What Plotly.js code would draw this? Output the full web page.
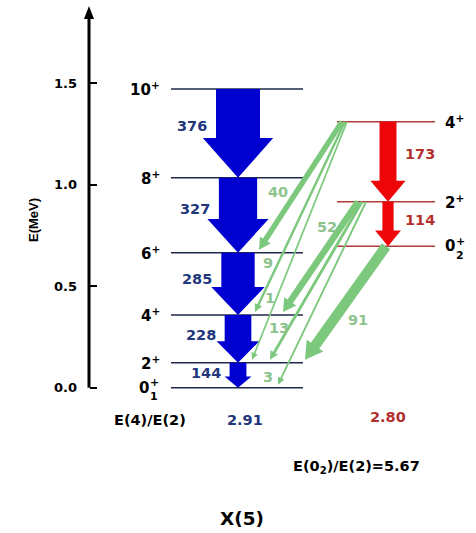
<!DOCTYPE html>
<html>
<head>
<meta charset="utf-8">
<script src="https://cdn.plot.ly/plotly-3.0.1.min.js"></script>
<style>html,body{margin:0;padding:0;background:#fff;}</style>
</head>
<body>
<div id="chart" style="width:476px;height:533px;"></div>
<script>
// ---- Level scheme data (energies in MeV) ----
const groundSpins = ['10', '8', '6', '4', '2', '0'];
const groundEnergies = [1.471, 1.034, 0.665, 0.358, 0.123, 0.0];
const betaSpins = ['4', '2', '0'];
const betaEnergies = [1.310, 0.916, 0.697];

// In-band B(E2) strengths, highest transition first
const groundBE2 = [376, 327, 285, 228, 144];
const betaBE2 = [173, 114];

// Inter-band transitions: beta level index -> ground level index, B(E2)
const interFrom = [0, 0, 0, 1, 1, 1, 2];
const interTo = [2, 3, 4, 3, 4, 5, 4];
const interBE2 = [40, 9, 1, 52, 13, 3, 91];

const yTicks = [0, 0.5, 1.0, 1.5];

// ---- Layout geometry (pixels) ----
const W = 476, H = 533;
const zeroPx = 387.7, pxPerMeV = 203;
const toE = p => (zeroPx - p) / pxPerMeV;
const toP = e => zeroPx - e * pxPerMeV;
const axisX = 89;
const groundLine = [171, 303], betaLine = [337, 435];
const groundArrowX = 238, betaArrowX = 388;
const interStartX = [342, 345, 347, 358, 362, 366, 386];
const interTipX = [259, 255, 252, 283, 270, 278, 305];
const interLabelPos = [[278, 192], [268, 263], [270, 298], [327, 227], [279, 328], [268, 377], [358, 320]];

const FONT = 'DejaVu Sans, Liberation Sans, Arial, sans-serif';
const FONT_NARROW = 'Liberation Sans, Arial, Helvetica, sans-serif';
const BLUE = 'rgb(0,0,208)', RED = 'rgb(236,6,10)', GREEN = 'rgb(124,200,124)';
const BLUE_TXT = '#22377c', RED_TXT = '#b3302f', GREEN_TXT = '#8dc38d';

// Arrow polygon in pixel space -> path in data coordinates
function arrowPath(x0, y0, x1, y1, w, hw, hl) {
  const L = Math.hypot(x1 - x0, y1 - y0);
  const dx = (x1 - x0) / L, dy = (y1 - y0) / L;
  const nx = -dy, ny = dx;
  const bx = x1 - dx * hl, by = y1 - dy * hl;
  const pts = [
    [x0 + nx * w / 2, y0 + ny * w / 2],
    [bx + nx * w / 2, by + ny * w / 2],
    [bx + nx * hw / 2, by + ny * hw / 2],
    [x1, y1],
    [bx - nx * hw / 2, by - ny * hw / 2],
    [bx - nx * w / 2, by - ny * w / 2],
    [x0 - nx * w / 2, y0 - ny * w / 2]
  ];
  return 'M' + pts.map(p => p[0].toFixed(2) + ',' + toE(p[1]).toFixed(5)).join(' L') + ' Z';
}

const shapes = [];
const annotations = [];

// Energy axis line with arrowhead
shapes.push({type: 'line', xref: 'x', yref: 'y', x0: axisX, x1: axisX, y0: 0, y1: toE(16),
  line: {color: '#000', width: 3}});
shapes.push({type: 'path', xref: 'x', yref: 'y', fillcolor: '#000', line: {width: 0},
  path: `M${axisX - 5},${toE(19)} L${axisX},${toE(6)} L${axisX + 5},${toE(19)} Z`});

// Axis title
annotations.push({x: 33 / W, y: 1 - 220 / H, xref: 'paper', yref: 'paper', xanchor: 'center', yanchor: 'middle',
  showarrow: false, textangle: -90, text: 'E(MeV)',
  font: {family: FONT_NARROW, size: 13, color: '#000', weight: 'bold'}});

// Ground-band cascade
groundBE2.forEach((v, i) => {
  const yTop = toP(groundEnergies[i]), yBot = toP(groundEnergies[i + 1]);
  const w = 0.117 * v, hw = 1.6 * w, hl = Math.min(0.95 * w, 0.45 * (yBot - yTop));
  shapes.push({type: 'path', xref: 'x', yref: 'y', layer: 'above', fillcolor: BLUE, line: {width: 0},
    path: arrowPath(groundArrowX, yTop, groundArrowX, yBot, w, hw, hl)});
  annotations.push({x: (groundArrowX - w / 2 - 7) / W, y: 1 - (yTop + 0.42 * (yBot - yTop)) / H,
    xref: 'paper', yref: 'paper', xanchor: 'right', yanchor: 'middle', showarrow: false,
    text: String(v), font: {family: FONT, size: 14.5, color: BLUE_TXT, weight: 'bold'}});
});

// Beta-band cascade
betaBE2.forEach((v, i) => {
  const yTop = toP(betaEnergies[i]), yBot = toP(betaEnergies[i + 1]);
  const w = 0.098 * v, hw = 1.6 * w + 8, hl = 0.95 * w + 5;
  shapes.push({type: 'path', xref: 'x', yref: 'y', layer: 'above', fillcolor: RED, line: {width: 0},
    path: arrowPath(betaArrowX, yTop, betaArrowX, yBot, w, hw, hl)});
  annotations.push({x: (betaArrowX + 15) / W, y: 1 - (yTop + 0.4 * (yBot - yTop)) / H,
    xref: 'paper', yref: 'paper', xanchor: 'left', yanchor: 'middle', showarrow: false,
    text: String(v), font: {family: FONT, size: 14.5, color: RED_TXT, weight: 'bold'}});
});

// Inter-band transitions
interBE2.forEach((v, i) => {
  const y0 = toP(betaEnergies[interFrom[i]]);
  const y1 = toP(groundEnergies[interTo[i]]) - 3;
  const w = 1.6 + 0.095 * v, hw = 4 + 1.6 * w, hl = 5 + 1.2 * w;
  shapes.push({type: 'path', xref: 'x', yref: 'y', layer: 'above', fillcolor: GREEN, line: {width: 0},
    path: arrowPath(interStartX[i], y0, interTipX[i], y1, w, hw, hl)});
  annotations.push({x: interLabelPos[i][0] / W, y: 1 - interLabelPos[i][1] / H,
    xref: 'paper', yref: 'paper', xanchor: 'center', yanchor: 'middle', showarrow: false,
    text: String(v), font: {family: FONT, size: 14.5, color: GREEN_TXT, weight: 'bold'}});
});

// Level labels
function levelLabel(spin, e, xPx, anchor, sub) {
  const yP = toP(e);
  const f = {family: FONT, size: 15, color: '#000', weight: 'bold'};
  const small = {family: FONT, size: 11, color: '#000', weight: 'bold'};
  if (spin !== '0') {
    annotations.push({x: xPx / W, y: 1 - yP / H, xref: 'paper', yref: 'paper', xanchor: anchor,
      yanchor: 'middle', showarrow: false, text: spin + '<sup>+</sup>', font: f});
  } else {
    annotations.push({x: xPx / W, y: 1 - yP / H, xref: 'paper', yref: 'paper', xanchor: 'left',
      yanchor: 'middle', showarrow: false, text: '0', font: f});
    annotations.push({x: (xPx + 10.5) / W, y: 1 - (yP - 5) / H, xref: 'paper', yref: 'paper', xanchor: 'left',
      yanchor: 'middle', showarrow: false, text: '+', font: small});
    annotations.push({x: (xPx + 10.5) / W, y: 1 - (yP + 9) / H, xref: 'paper', yref: 'paper', xanchor: 'left',
      yanchor: 'middle', showarrow: false, text: sub, font: small});
  }
}
groundSpins.forEach((s, i) => levelLabel(s, groundEnergies[i], s === '0' ? 137 : 162, 'right', '1'));
betaSpins.forEach((s, i) => levelLabel(s, betaEnergies[i], 443, 'left', '2'));

// Energy ratios
const r42g = groundEnergies[3] / groundEnergies[4];
const r42b = (betaEnergies[0] - betaEnergies[2]) / (betaEnergies[1] - betaEnergies[2]);
const r02 = betaEnergies[2] / groundEnergies[4];
const txt = (s, x, y, size, color) => annotations.push({x: x / W, y: 1 - y / H, xref: 'paper', yref: 'paper',
  xanchor: 'center', yanchor: 'middle', showarrow: false, text: s,
  font: {family: FONT, size: size, color: color, weight: 'bold'}});
txt('E(4)/E(2)', 150, 420, 14.5, '#000');
txt(r42g.toFixed(2), 245, 420, 14.5, BLUE_TXT);
txt(r42b.toFixed(2), 388, 417, 14.5, RED_TXT);
txt('E(0<sub>2</sub>)/E(2)=' + r02.toFixed(2), 356, 467, 14.5, '#000');
txt('X(5)', 242, 518, 18.5, '#000');

// Level lines
function levelTrace(energies, xr, color) {
  const x = [], y = [];
  energies.forEach(e => { x.push(xr[0], xr[1], null); y.push(e, e, null); });
  return {type: 'scatter', mode: 'lines', x, y, hoverinfo: 'skip', showlegend: false,
    line: {color: color, width: 1.5}};
}

const data = [
  levelTrace(groundEnergies, groundLine, '#1f2a4a'),
  levelTrace(betaEnergies, betaLine, '#b03a3a')
];

const layout = {
  width: W, height: H,
  margin: {l: 0, r: 0, t: 0, b: 0},
  paper_bgcolor: '#fff', plot_bgcolor: '#fff',
  showlegend: false,
  xaxis: {range: [0, W], visible: false, fixedrange: true},
  yaxis: {
    range: [toE(H), toE(0)], anchor: 'free', position: axisX / W,
    showgrid: false, zeroline: false, showline: false,
    tickmode: 'array', tickvals: yTicks, tickformat: '.1f',
    ticks: 'inside', ticklen: 7, tickwidth: 2, tickcolor: '#000',
    ticklabelstandoff: 12,
    tickfont: {family: FONT, size: 13, color: '#000', weight: 'bold'},
    fixedrange: true
  },
  shapes: shapes,
  annotations: annotations
};

Plotly.newPlot('chart', data, layout, {displayModeBar: false, staticPlot: true});
</script>
</body>
</html>
